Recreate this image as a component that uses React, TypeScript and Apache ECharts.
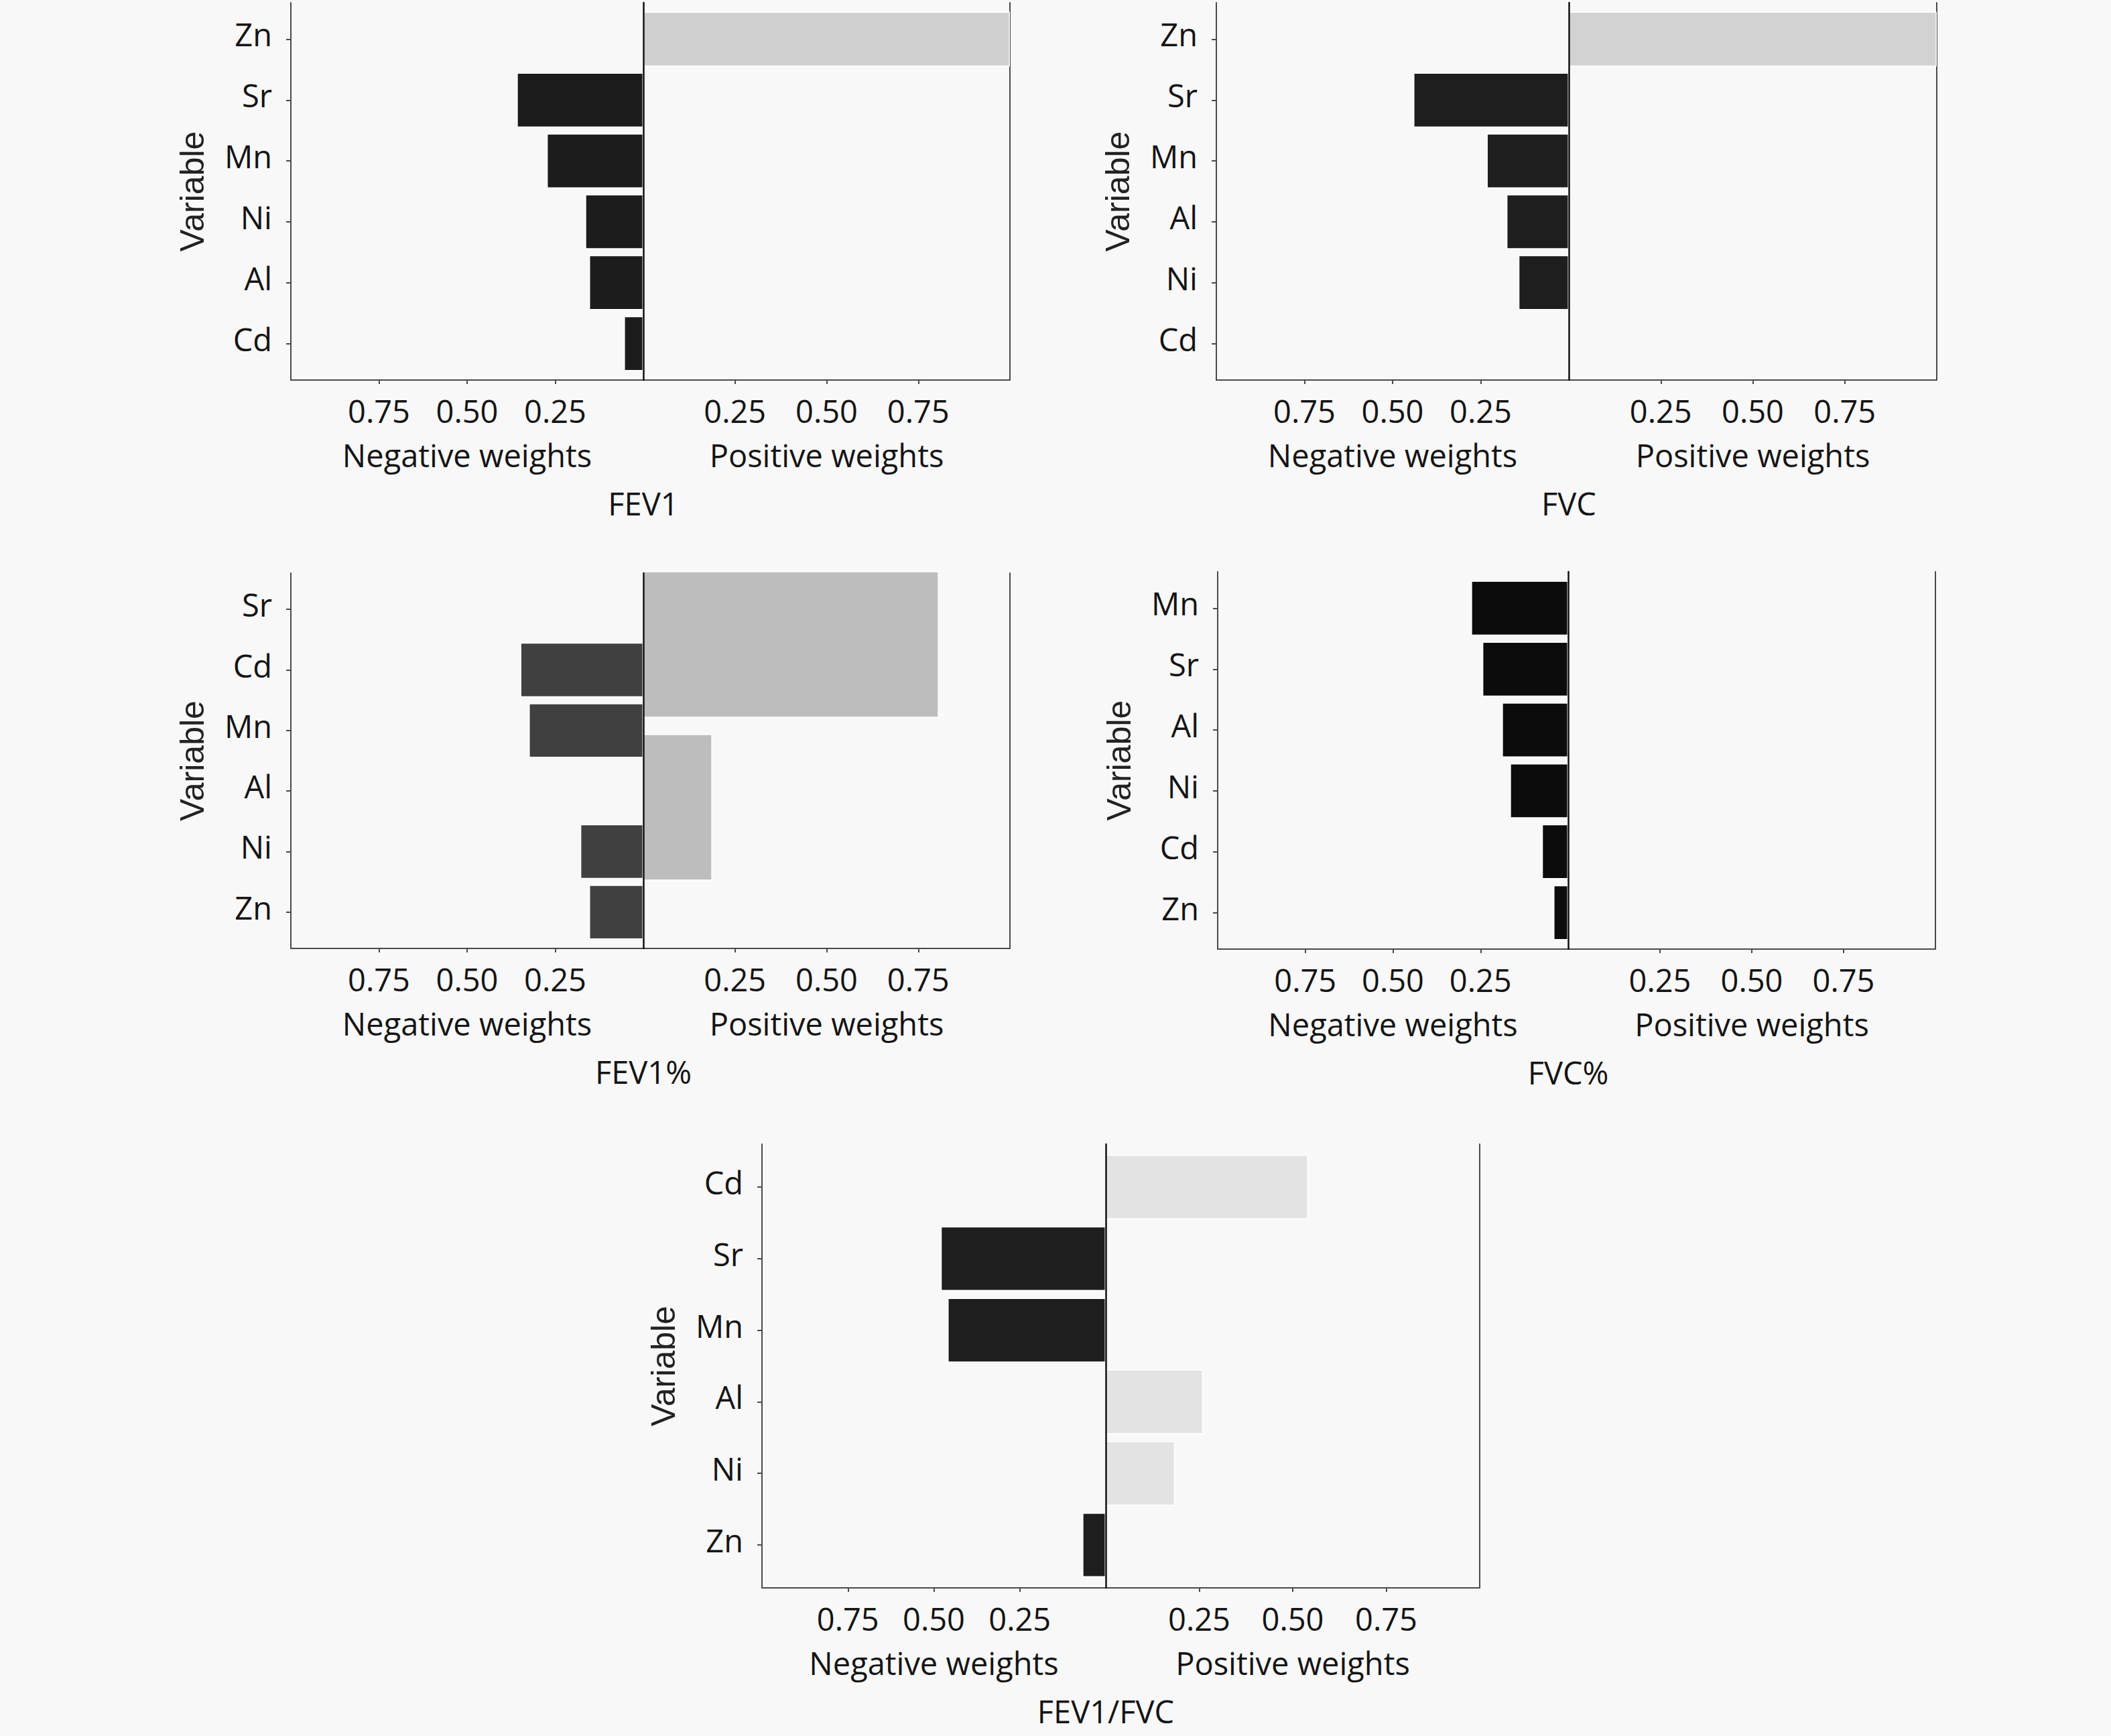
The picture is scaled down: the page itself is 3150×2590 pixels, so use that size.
import React, { useEffect, useRef } from 'react';
import * as echarts from 'echarts';

// ---------------- data ----------------
const FEV1_CATS = ['Zn', 'Sr', 'Mn', 'Ni', 'Al', 'Cd'];
const FEV1_NEG = [null, 0.359, 0.274, 0.165, 0.154, 0.055];
const FEV1_POS = [1.0, null, null, null, null, null];

const FVC_CATS = ['Zn', 'Sr', 'Mn', 'Al', 'Ni', 'Cd'];
const FVC_NEG = [null, 0.441, 0.233, 0.177, 0.143, null];
const FVC_POS = [1.0, null, null, null, null, null];

const FEV1P_CATS = ['Sr', 'Cd', 'Mn', 'Al', 'Ni', 'Zn'];
const FEV1P_NEG = [null, 0.349, 0.325, null, 0.179, 0.154];
const FEV1P_POS_CATS = ['Sr', 'Al'];
const FEV1P_POS = [0.806, 0.188];

const FVCP_CATS = ['Mn', 'Sr', 'Al', 'Ni', 'Cd', 'Zn'];
const FVCP_NEG = [0.277, 0.245, 0.189, 0.166, 0.075, 0.042];
const FVCP_POS = [null, null, null, null, null, null];

const RATIO_CATS = ['Cd', 'Sr', 'Mn', 'Al', 'Ni', 'Zn'];
const RATIO_NEG = [null, 0.48, 0.46, null, null, 0.068];
const RATIO_POS = [0.541, null, null, 0.26, 0.185, null];

const WEIGHT_TICKS = [0.25, 0.5, 0.75];
const NEG_NAME = 'Negative weights';
const POS_NAME = 'Positive weights';
const Y_NAME = 'Variable';

// ---------------- layout / style ----------------
const FONT = "'Open Sans', sans-serif";
const TXT = '#141414';
const AXIS = '#4a4a4a';
const FS = 47;

const PANELS = [
  { title: 'FEV1', cats: FEV1_CATS, neg: FEV1_NEG, posCats: FEV1_CATS, pos: FEV1_POS,
    L: 434, C: 960, R: 1507, T: 4, B: 567, negColor: '#1c1c1c', posColor: '#d0d0d0' },
  { title: 'FVC', cats: FVC_CATS, neg: FVC_NEG, posCats: FVC_CATS, pos: FVC_POS,
    L: 1815, C: 2341, R: 2890, T: 4, B: 567, negColor: '#1e1e1e', posColor: '#d2d2d2' },
  { title: 'FEV1%', cats: FEV1P_CATS, neg: FEV1P_NEG, posCats: FEV1P_POS_CATS, pos: FEV1P_POS,
    L: 434, C: 960, R: 1507, T: 855, B: 1415, negColor: '#404040', posColor: '#bdbdbd',
    posTop: 840, posBottom: 1326 },
  { title: 'FVC%', cats: FVCP_CATS, neg: FVCP_NEG, posCats: FVCP_CATS, pos: FVCP_POS,
    L: 1817, C: 2340, R: 2888, T: 853, B: 1416, negColor: '#0c0c0c', posColor: '#cccccc' },
  { title: 'FEV1/FVC', cats: RATIO_CATS, neg: RATIO_NEG, posCats: RATIO_CATS, pos: RATIO_POS,
    L: 1137, C: 1650, R: 2208, T: 1707, B: 2369, negColor: '#1e1e1e', posColor: '#e3e3e3' },
];

function buildOption() {
  const grid: any[] = [];
  const xAxis: any[] = [];
  const yAxis: any[] = [];
  const series: any[] = [];
  const graphic: any[] = [];

  const lineStyle = { color: AXIS, width: 2 };
  const labelStyle = { fontFamily: FONT, fontSize: FS, color: TXT };

  PANELS.forEach((p: any) => {
    const band = (p.B - p.T) / 6.2;
    const barTop = p.T + 0.1 * band;
    const barH = 6 * band;

    // frame left (FL)
    const gFL = grid.length;
    grid.push({ left: p.L, top: p.T, width: p.C - p.L, height: p.B - p.T, outerBoundsMode: 'none' });
    xAxis.push({
      gridIndex: gFL, type: 'value', min: 0, max: 1, inverse: true, position: 'bottom',
      axisLine: { show: true, onZero: false, lineStyle },
      axisTick: { show: true, customValues: WEIGHT_TICKS, length: 6, lineStyle },
      axisLabel: { show: true, customValues: WEIGHT_TICKS, formatter: (v: number) => v.toFixed(2), margin: 22, ...labelStyle },
      splitLine: { show: false },
      name: NEG_NAME, nameLocation: 'middle', nameGap: 88, nameTextStyle: labelStyle,
    });
    yAxis.push({
      gridIndex: gFL, type: 'value', min: 0, max: 1, position: 'left',
      axisLine: { show: true, onZero: false, lineStyle },
      axisTick: { show: false }, axisLabel: { show: false }, splitLine: { show: false },
    });

    // frame right (FR)
    const gFR = grid.length;
    grid.push({ left: p.C, top: p.T, width: p.R - p.C, height: p.B - p.T, outerBoundsMode: 'none' });
    xAxis.push({
      gridIndex: gFR, type: 'value', min: 0, max: 1, position: 'bottom',
      axisLine: { show: true, onZero: false, lineStyle },
      axisTick: { show: true, customValues: WEIGHT_TICKS, length: 6, lineStyle },
      axisLabel: { show: true, customValues: WEIGHT_TICKS, formatter: (v: number) => v.toFixed(2), margin: 22, ...labelStyle },
      splitLine: { show: false },
      name: POS_NAME, nameLocation: 'middle', nameGap: 88, nameTextStyle: labelStyle,
    });
    yAxis.push({
      gridIndex: gFR, type: 'value', min: 0, max: 1, position: 'left', z: 10,
      axisLine: { show: true, onZero: false, lineStyle: { color: '#111', width: 2.5 } },
      axisTick: { show: false }, axisLabel: { show: false }, splitLine: { show: false },
    });
    yAxis.push({
      gridIndex: gFR, type: 'value', min: 0, max: 1, position: 'right',
      axisLine: { show: true, onZero: false, lineStyle },
      axisTick: { show: false }, axisLabel: { show: false }, splitLine: { show: false },
    });

    // bars left (BA)
    const gBA = grid.length;
    grid.push({ left: p.L, top: barTop, width: p.C - p.L, height: barH, outerBoundsMode: 'none' });
    const xBA = xAxis.length;
    xAxis.push({ gridIndex: gBA, type: 'value', min: 0, max: 1, inverse: true, show: false });
    const yBA = yAxis.length;
    yAxis.push({
      gridIndex: gBA, type: 'category', data: p.cats, inverse: true, position: 'left',
      axisLine: { show: false, onZero: false },
      axisTick: { show: true, alignWithLabel: true, length: 7, lineStyle },
      axisLabel: { margin: 28, verticalAlign: 'bottom', lineHeight: 14, ...labelStyle },
      name: Y_NAME, nameLocation: 'middle', nameRotate: 90, nameGap: 122,
      nameTextStyle: { fontFamily: "'Liberation Sans', Arial, sans-serif", fontSize: 50, color: '#222' },
    });
    series.push({
      type: 'bar', xAxisIndex: xBA, yAxisIndex: yBA, data: p.neg, barCategoryGap: '10%',
      itemStyle: { color: p.negColor, borderColor: '#ffffff', borderWidth: 1.5 }, z: 2,
    });

    // bars right (BB)
    const gBB = grid.length;
    const bbTop = p.posTop !== undefined ? p.posTop : barTop;
    const bbH = p.posBottom !== undefined ? p.posBottom - p.posTop : barH;
    grid.push({ left: p.C, top: bbTop, width: p.R - p.C, height: bbH, outerBoundsMode: 'none' });
    const xBB = xAxis.length;
    xAxis.push({ gridIndex: gBB, type: 'value', min: 0, max: 1, show: false });
    const yBB = yAxis.length;
    yAxis.push({ gridIndex: gBB, type: 'category', data: p.posCats, inverse: true, show: false });
    series.push({
      type: 'bar', xAxisIndex: xBB, yAxisIndex: yBB, data: p.pos, barCategoryGap: '10%',
      itemStyle: { color: p.posColor, borderColor: '#ffffff', borderWidth: 1.5 }, z: 2,
    });

    // panel title
    graphic.push({
      type: 'text', x: p.C, y: p.B + 184,
      style: { text: p.title, fill: TXT, fontFamily: FONT, fontSize: FS, align: 'center', verticalAlign: 'middle' },
    });
  });

  return {
    animation: false,
    backgroundColor: '#f8f8f8',
    grid, xAxis, yAxis, series, graphic,
  };
}

export default function App() {
  const ref = useRef<HTMLDivElement>(null);
  useEffect(() => {
    document.body.style.margin = '0';
    document.body.style.background = '#f8f8f8';
    const chart = echarts.init(ref.current as HTMLDivElement, undefined, { renderer: 'svg' });
    chart.setOption(buildOption() as any);
    return () => chart.dispose();
  }, []);
  return <div ref={ref} style={{ width: 3150, height: 2590 }} />;
}
